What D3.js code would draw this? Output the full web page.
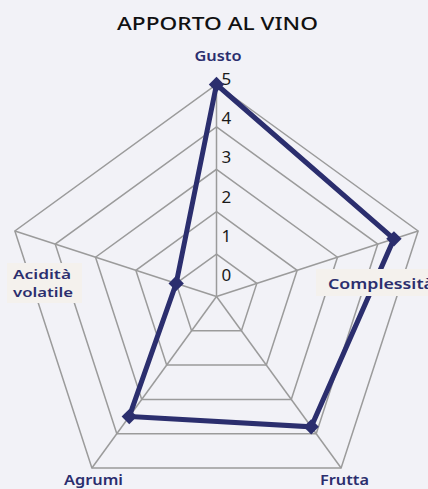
<!DOCTYPE html>
<html>
<head>
<meta charset="utf-8">
<script src="https://cdn.jsdelivr.net/npm/d3@7"></script>
<style>
  html, body { margin: 0; padding: 0; background: #f2f2f7; }
  svg { display: block; }
</style>
</head>
<body>
<div id="chart"></div>
<script>
const categories = ["Gusto", "Complessità", "Frutta", "Agrumi", "Acidità volatile"];
const values = [5, 4.4, 3.8, 3.5, 1];
const tickLabels = [0, 1, 2, 3, 4, 5];
const gridLevels = [1, 2, 3, 4, 5];
const title = "APPORTO AL VINO";

const W = 428, H = 489;
const cx = 216.5, cy = 296.5, R = 212;
const navy = "#2b2e6e";
const grid = "#9b9b9b";

const svg = d3.select("#chart").append("svg").attr("width", W).attr("height", H);
svg.append("rect").attr("width", W).attr("height", H).attr("fill", "#f2f2f7");

const r = d3.scaleLinear().domain([0, 5]).range([0, R]);
const labelR = d3.scaleLinear().domain([0, 5]).range([22, 218]);
const angle = d3.scaleLinear().domain([0, categories.length]).range([0, 2 * Math.PI]);
const pt = (i, v) => [cx + r(v) * Math.sin(angle(i)), cy - r(v) * Math.cos(angle(i))];

const g = svg.append("g");

// grid pentagons
gridLevels.forEach(l => {
  const pts = categories.map((c, i) => pt(i, l));
  g.append("path")
    .attr("d", d3.line()(pts) + "Z")
    .attr("fill", "none").attr("stroke", grid).attr("stroke-width", 1.5);
});
// spokes
categories.forEach((c, i) => {
  const [x, y] = pt(i, 5);
  g.append("line").attr("x1", cx).attr("y1", cy).attr("x2", x).attr("y2", y)
    .attr("stroke", grid).attr("stroke-width", 1.5);
});

// tick labels
tickLabels.forEach(t => {
  g.append("text").attr("x", cx + 5).attr("y", cy - labelR(t))
    .attr("dominant-baseline", "central")
    .attr("font-family", "Noto Sans, sans-serif").attr("font-size", 17)
    .attr("fill", "#1a1a1a").text(t);
});

// data polygon
const dataPts = values.map((v, i) => pt(i, v));
g.append("path").attr("d", d3.line()(dataPts) + "Z")
  .attr("fill", "none").attr("stroke", navy).attr("stroke-width", 5)
  .attr("stroke-linejoin", "miter");
g.selectAll(".m").data(dataPts).enter().append("path")
  .attr("d", d3.symbol().type(d3.symbolDiamond2).size(150)())
  .attr("transform", d => `translate(${d[0]},${d[1]})`)
  .attr("fill", navy);

// title
svg.append("text").attr("x", 217.5).attr("y", 22)
  .attr("text-anchor", "middle").attr("dominant-baseline", "central")
  .attr("font-family", "Noto Sans, sans-serif").attr("font-size", 18.5).attr("font-weight", 500)
  .attr("textLength", 201).attr("lengthAdjust", "spacingAndGlyphs")
  .attr("fill", "#111").text(title);

const lblFont = "Noto Sans, sans-serif";
function label(x, y, txt, len, fs) {
  return svg.append("text").attr("x", x).attr("y", y)
    .attr("dominant-baseline", "central").attr("font-family", lblFont).attr("font-size", fs || 14.5)
    .attr("font-weight", 600).attr("fill", navy)
    .attr("textLength", len).attr("lengthAdjust", "spacingAndGlyphs").text(txt);
}
// Gusto
label(194.5, 55, categories[0], 47);

// Complessità with background box
svg.append("rect").attr("x", 316).attr("y", 269).attr("width", 120).attr("height", 27).attr("fill", "#f4f1ed");
label(328, 282.5, categories[1], 106);

// Frutta
label(320, 479, categories[2], 49, 14);

// Agrumi
label(64, 479, categories[3], 59, 14);

// Acidità volatile (two lines, boxed)
svg.append("rect").attr("x", 7).attr("y", 263).attr("width", 75).attr("height", 40).attr("fill", "#f4f1ed");
const av = categories[4].split(" ");
av.forEach((w, k) => {
  label(13, 274 + k * 18, w, k === 0 ? 58 : 60, 13);
});
</script>
</body>
</html>
